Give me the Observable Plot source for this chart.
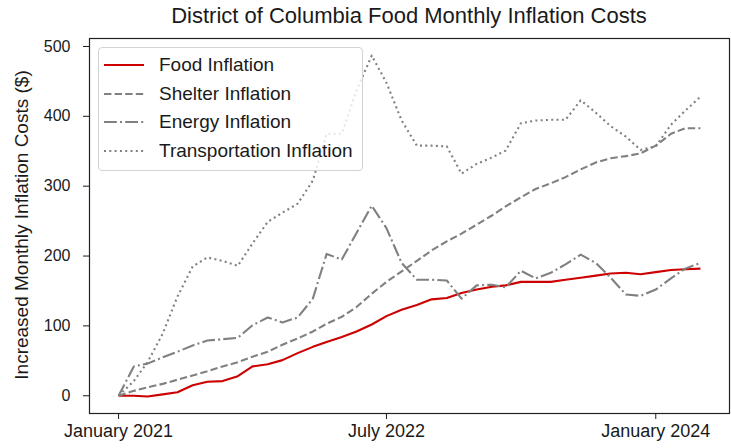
<!DOCTYPE html>
<html><head><meta charset="utf-8">
<script src="https://cdn.jsdelivr.net/npm/d3@7"></script>
<script src="https://cdn.jsdelivr.net/npm/@observablehq/plot@0.6"></script>
<style>
body{margin:0;background:#fff;font-family:"Liberation Sans",Arial,sans-serif;}
#wrap{position:relative;width:731px;height:448px;}
#title{position:absolute;left:89px;width:640px;top:3px;text-align:center;font-size:22px;color:#1a1a1a;white-space:nowrap;}
#ylab{position:absolute;left:22px;top:225px;transform:translate(-50%,-50%) rotate(-90deg);font-size:19px;color:#1a1a1a;white-space:nowrap;}
#legend{position:absolute;left:98px;top:47px;width:265px;height:124px;background:rgba(255,255,255,0.8);border:1px solid #d3d3d3;border-radius:4px;box-sizing:border-box;}
.item{position:absolute;left:5px;height:22px;display:flex;align-items:center;font-size:19px;color:#1a1a1a;white-space:nowrap;}
.item svg{margin-right:15px;}
</style>
</head><body>
<div id="wrap">
  <div id="chart"></div>
  <div id="title">District of Columbia Food Monthly Inflation Costs</div>
  <div id="ylab">Increased Monthly Inflation Costs ($)</div>
  <div id="legend"></div>
</div>
<script>
const months = ["2021-01","2021-02","2021-03","2021-04","2021-05","2021-06","2021-07","2021-08","2021-09","2021-10","2021-11","2021-12",
"2022-01","2022-02","2022-03","2022-04","2022-05","2022-06","2022-07","2022-08","2022-09","2022-10","2022-11","2022-12",
"2023-01","2023-02","2023-03","2023-04","2023-05","2023-06","2023-07","2023-08","2023-09","2023-10","2023-11","2023-12",
"2024-01","2024-02","2024-03","2024-04"];
const food = [0,0,-1,2,5,15,20,21,28,42,45,51,61,70,77,84,92,102,114,123,130,138,140,147,152,156,158,163,163,163,166,169,172,175,176,174,177,180,181,182];
const shelter = [0,7,12,17,23,29,35,42,48,56,63,73,82,92,103,113,127,146,163,178,193,208,221,232,245,258,271,284,296,304,313,324,334,340,343,347,358,375,383,383];
const energy = [0,42,46,55,63,72,79,81,83,101,112,105,112,139,203,195,233,272,240,190,166,166,165,139,158,159,155,179,168,176,188,202,190,169,145,143,152,168,182,190];
const transport = [0,21,48,89,142,185,198,193,186,218,249,262,275,308,375,375,437,487,448,394,358,358,357,318,332,341,351,390,394,395,395,423,405,386,371,352,357,388,408,428];
const seriesNames = ["Food Inflation","Shelter Inflation","Energy Inflation","Transportation Inflation"];
const tickMonths = ["2021-01","2022-07","2024-01"];
const tickLabels = ["January 2021","July 2022","January 2024"];
const yTicks = [0,100,200,300,400,500];

const styles = [
  {stroke:"#cc0000", dash:null},
  {stroke:"#808080", dash:"7.4,3.2"},
  {stroke:"#808080", dash:"12.8,3.2,2,3.2"},
  {stroke:"#808080", dash:"2,3.3"}
];
const valueSets = [food, shelter, energy, transport];
const parse = s => new Date(s + "-01T00:00:00Z");
const dates = months.map(parse);
const rows = valueSets.map((vals, k) => vals.map((v, i) => ({series: seriesNames[k], date: dates[i], value: v})));

const t0 = +dates[0], t1 = +dates[dates.length - 1], tspan = t1 - t0;
const allVals = valueSets.flat();
const vmin = d3.min(allVals), vmax = d3.max(allVals), vspan = vmax - vmin;

const tickDates = tickMonths.map(parse);
const fmt = new Map(tickDates.map((d, i) => [+d, tickLabels[i]]));

const chart = Plot.plot({
  width: 731, height: 448,
  marginLeft: 89, marginRight: 2, marginTop: 38, marginBottom: 35,
  style: {fontFamily: "'Liberation Sans', Arial, sans-serif", fontSize: "16px", color: "#1a1a1a", background: "white"},
  x: {type: "utc", domain: [new Date(t0 - 0.05 * tspan), new Date(t1 + 0.05 * tspan)]},
  y: {domain: [vmin - 0.05 * vspan, vmax + 0.05 * vspan]},
  marks: [
    ...rows.map((r, k) => Plot.line(r, {x: "date", y: "value", stroke: styles[k].stroke, strokeWidth: 2.1, strokeDasharray: styles[k].dash, strokeLinecap: "butt", strokeLinejoin: "round"})),
    Plot.frame({stroke: "#222", strokeWidth: 1.2}),
    Plot.axisX({ticks: tickDates, tickFormat: d => fmt.get(+d), tickSize: 6, tickPadding: 5, fontSize: 18, label: null}),
    Plot.axisY({ticks: yTicks, tickSize: 6, tickPadding: 13, fontSize: 16, label: null})
  ]
});
document.getElementById("chart").appendChild(chart);

const legend = document.getElementById("legend");
const offsets = [17, 46, 74, 103];
seriesNames.forEach((name, k) => {
  const div = document.createElement("div");
  div.className = "item";
  div.style.top = (offsets[k] - 11) + "px";
  const dashAttr = styles[k].dash ? `stroke-dasharray="${styles[k].dash}"` : "";
  div.innerHTML = `<svg width="40" height="10"><line x1="0" y1="5" x2="40" y2="5" stroke="${styles[k].stroke}" stroke-width="2" ${dashAttr}/></svg><span>${name}</span>`;
  legend.appendChild(div);
});
</script>
</body></html>
